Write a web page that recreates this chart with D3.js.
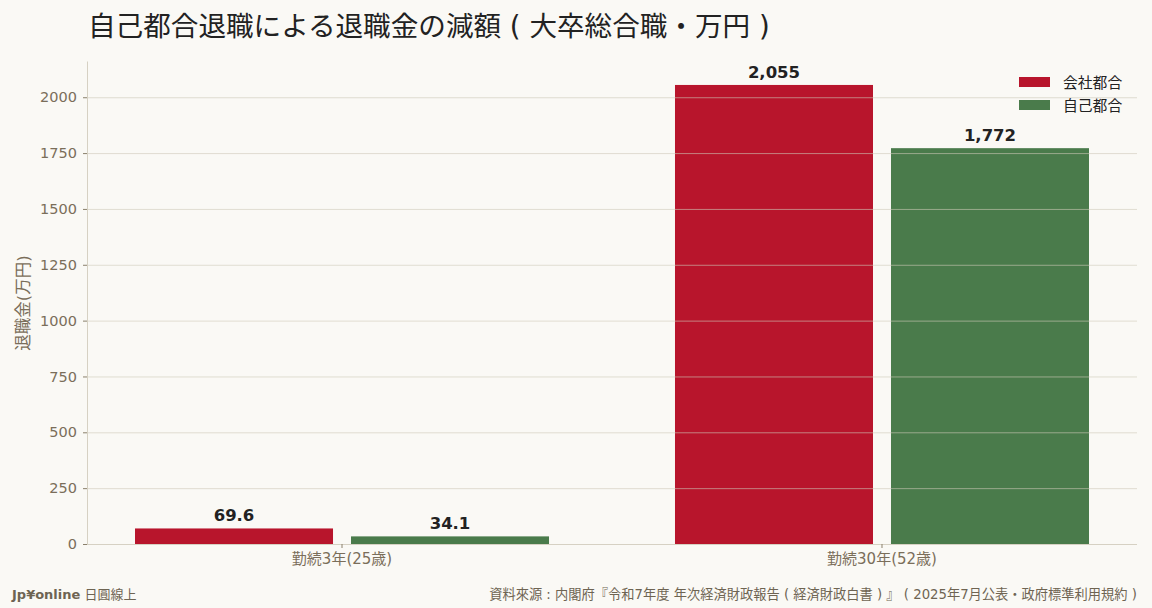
<!DOCTYPE html>
<html>
<head>
<meta charset="utf-8">
<script src="https://cdn.jsdelivr.net/npm/d3@7"></script>
<style>
  body { margin: 0; background: #faf9f5; }
  svg { display: block; }
</style>
</head>
<body>
<svg id="chart" width="1152" height="608"></svg>
<script>
var categories = ["勤続3年(25歳)", "勤続30年(52歳)"];
var seriesNames = ["会社都合", "自己都合"];
var companyValues = [69.6, 2055];
var selfValues = [34.1, 1772];
var valueLabels = [["69.6", "34.1"], ["2,055", "1,772"]];
var yTicks = [0, 250, 500, 750, 1000, 1250, 1500, 1750, 2000];
var colors = ["#b8152c", "#4a7b4b"];

var width = 1152, height = 608;
var margin = {top: 62, right: 15, bottom: 64, left: 87};
var plotW = width - margin.left - margin.right,
    plotH = height - margin.top - margin.bottom;

var svg = d3.select("#chart");
var textCol = "#7a6e5a";
var cjk = "'DejaVu Sans', 'Noto Sans CJK JP', sans-serif";
var cjkOnly = "'Noto Sans CJK JP', sans-serif";

// title
svg.append("text")
    .attr("x", 88)
    .attr("y", 36)
    .attr("font-family", cjk)
    .attr("font-size", 27.6)
    .attr("fill", "#222")
    .text("自己都合退職による退職金の減額 ( 大卒総合職・万円 )");

var g = svg.append("g")
    .attr("transform", "translate(" + margin.left + "," + margin.top + ")");

var x0 = d3.scaleBand()
    .domain(categories)
    .range([0, plotW])
    .paddingInner(0.2333)
    .paddingOuter(0.0889);

var x1 = d3.scaleBand()
    .domain(seriesNames)
    .range([0, x0.bandwidth()])
    .paddingInner(0.0833);

var y = d3.scaleLinear()
    .domain([0, 2055 * 1.05])
    .range([plotH, 0]);

// bars
var rows = categories.map(function(c, i) {
  return {cat: c, vals: [companyValues[i], selfValues[i]], labels: valueLabels[i]};
});

var group = g.selectAll("g.grp")
    .data(rows)
  .enter().append("g")
    .attr("class", "grp")
    .attr("transform", function(d) { return "translate(" + x0(d.cat) + ",0)"; });

group.selectAll("rect")
    .data(function(d) { return d.vals.map(function(v, j) { return {s: seriesNames[j], v: v, j: j}; }); })
  .enter().append("rect")
    .attr("x", function(d) { return x1(d.s); })
    .attr("y", function(d) { return y(d.v); })
    .attr("width", x1.bandwidth())
    .attr("height", function(d) { return plotH - y(d.v); })
    .attr("fill", function(d) { return colors[d.j]; });

// grid (drawn over bars)
g.append("g")
    .selectAll("line")
    .data(yTicks.slice(1))
  .enter().append("line")
    .attr("x1", 0)
    .attr("x2", plotW)
    .attr("y1", function(d) { return y(d) + 0.5; })
    .attr("y2", function(d) { return y(d) + 0.5; })
    .attr("stroke", "#cfc9b9")
    .attr("stroke-opacity", 0.6)
    .attr("stroke-width", 1);

// value labels
group.selectAll("text.val")
    .data(function(d) { return d.vals.map(function(v, j) { return {s: seriesNames[j], v: v, t: d.labels[j]}; }); })
  .enter().append("text")
    .attr("class", "val")
    .attr("x", function(d) { return x1(d.s) + x1.bandwidth() / 2; })
    .attr("y", function(d) { return y(d.v) - 7; })
    .attr("text-anchor", "middle")
    .attr("font-family", "'DejaVu Sans', sans-serif")
    .attr("font-weight", "bold")
    .attr("font-size", 16.5)
    .attr("fill", "#222")
    .text(function(d) { return d.t; });

// axes
var yAxis = g.append("g")
    .call(d3.axisLeft(y).tickValues(yTicks).tickFormat(d3.format("d")).tickSize(4).tickPadding(6));
var xAxis = g.append("g")
    .attr("transform", "translate(0," + plotH + ")")
    .call(d3.axisBottom(x0).tickSize(4).tickPadding(5));

[yAxis, xAxis].forEach(function(a) {
  a.select(".domain").attr("stroke", "#d6d1c3");
  a.selectAll(".tick line").attr("stroke", "#8a806c");
  a.selectAll(".tick text")
      .attr("fill", textCol)
      .attr("font-family", cjk);
});
yAxis.selectAll(".tick text").attr("font-size", 14.5);
xAxis.selectAll(".tick text").attr("font-size", 15);
yAxis.select(".domain").attr("d", "M0.5," + plotH + "V-0.5");
xAxis.select(".domain").attr("d", "M0,0.5H" + plotW);

// y label
svg.append("text")
    .attr("transform", "translate(29," + (margin.top + plotH / 2) + ") rotate(-90)")
    .attr("text-anchor", "middle")
    .attr("font-family", cjk)
    .attr("font-size", 16.5)
    .attr("fill", textCol)
    .text("退職金(万円)");

// legend
var legend = svg.append("g").attr("transform", "translate(1019,77)");
seriesNames.forEach(function(name, i) {
  legend.append("rect")
      .attr("x", 0).attr("y", i * 23)
      .attr("width", 31).attr("height", 10)
      .attr("fill", colors[i]);
  legend.append("text")
      .attr("x", 44).attr("y", i * 23 + 11)
      .attr("font-family", cjkOnly)
      .attr("font-size", 14.8)
      .attr("fill", "#222")
      .text(name);
});

// footer
var foot = svg.append("text")
    .attr("x", 12)
    .attr("y", 599)
    .attr("font-family", cjk)
    .attr("font-size", 13)
    .attr("fill", "#6e6452");
foot.append("tspan").attr("font-weight", "bold").text("Jp¥online");
foot.append("tspan").text(" 日圓線上");

svg.append("text")
    .attr("x", 1137)
    .attr("y", 599)
    .attr("text-anchor", "end")
    .attr("font-family", cjk)
    .attr("font-size", 13.25)
    .attr("fill", "#6e6452")
    .text("資料來源 : 内閣府『令和7年度 年次経済財政報告 ( 経済財政白書 ) 』 ( 2025年7月公表・政府標準利用規約 )");
</script>
</body>
</html>
